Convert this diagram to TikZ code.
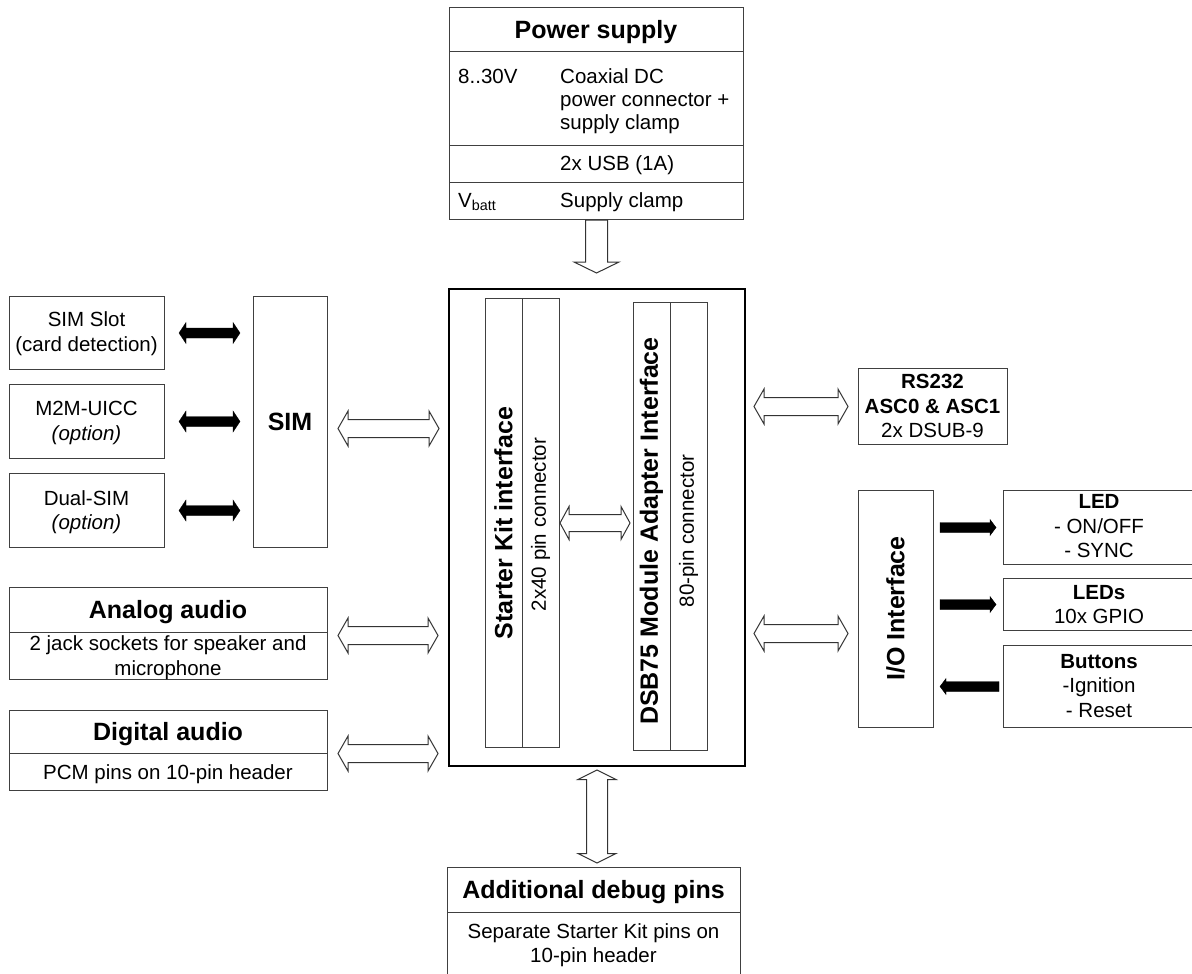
\documentclass[tikz,border=0pt]{standalone}
\usepackage{fontspec}
\setmainfont{Liberation Sans}
\usetikzlibrary{calc}

\tikzset{
  box/.style={draw=black!75, line width=1pt, rectangle, inner sep=0pt, anchor=north west},
  mainbox/.style={draw=black, line width=2pt, rectangle, inner sep=0pt, anchor=north west},
  divline/.style={draw=black!75, line width=1pt},
  txt/.style={inner sep=0pt, font=\fontsize{20.5pt}{24.5pt}\selectfont, align=center},
  ttl/.style={inner sep=0pt, font=\fontsize{25pt}{29pt}\selectfont\bfseries, align=center},
  hollow/.style={draw=black!80, line width=1pt, fill=white, line join=miter},
  solidarr/.style={fill=black, draw=black, line width=0.4pt},
}

% horizontal double-headed block arrow (from left #2 to right #3)
\newcommand\harrowD[6]{%
  \path[#1] let \p1=(#2), \p2=(#3) in
    (\x1,\y1) -- ({\x1+(#6)},{\y1+(#5)}) -- ({\x1+(#6)},{\y1+(#4)}) --
    ({\x2-(#6)},{\y1+(#4)}) -- ({\x2-(#6)},{\y1+(#5)}) -- (\x2,\y1) --
    ({\x2-(#6)},{\y1-(#5)}) -- ({\x2-(#6)},{\y1-(#4)}) --
    ({\x1+(#6)},{\y1-(#4)}) -- ({\x1+(#6)},{\y1-(#5)}) -- cycle;}
% horizontal single-headed block arrow, head at #3
\newcommand\harrowS[6]{%
  \path[#1] let \p1=(#2), \p2=(#3), \n1={sign(\x2-\x1)} in
    (\x1,{\y1+(#4)}) -- ({\x2-(\n1)*(#6)},{\y1+(#4)}) -- ({\x2-(\n1)*(#6)},{\y1+(#5)}) --
    (\x2,\y1) -- ({\x2-(\n1)*(#6)},{\y1-(#5)}) -- ({\x2-(\n1)*(#6)},{\y1-(#4)}) --
    (\x1,{\y1-(#4)}) -- cycle;}
% vertical single-headed block arrow, head at #3
\newcommand\varrowS[6]{%
  \path[#1] let \p1=(#2), \p2=(#3), \n1={sign(\y2-\y1)} in
    ({\x1+(#4)},\y1) -- ({\x1+(#4)},{\y2-(\n1)*(#6)}) -- ({\x1+(#5)},{\y2-(\n1)*(#6)}) --
    (\x1,\y2) -- ({\x1-(#5)},{\y2-(\n1)*(#6)}) -- ({\x1-(#4)},{\y2-(\n1)*(#6)}) --
    ({\x1-(#4)},\y1) -- cycle;}
% vertical double-headed block arrow
\newcommand\varrowD[6]{%
  \path[#1] let \p1=(#2), \p2=(#3), \n1={sign(\y2-\y1)} in
    (\x1,\y1) -- ({\x1+(#5)},{\y1+(\n1)*(#6)}) -- ({\x1+(#4)},{\y1+(\n1)*(#6)}) --
    ({\x1+(#4)},{\y2-(\n1)*(#6)}) -- ({\x1+(#5)},{\y2-(\n1)*(#6)}) -- (\x1,\y2) --
    ({\x1-(#5)},{\y2-(\n1)*(#6)}) -- ({\x1-(#4)},{\y2-(\n1)*(#6)}) --
    ({\x1-(#4)},{\y1+(\n1)*(#6)}) -- ({\x1-(#5)},{\y1+(\n1)*(#6)}) -- cycle;}

\begin{document}
\begin{tikzpicture}[x=1pt,y=-1pt]
\useasboundingbox (0,0) rectangle (1192,974);
\clip (0,0) rectangle (1192,974);
\fill[white] (0,0) rectangle (1192,974);

% ---------- boxes ----------
\node[box, minimum width=294pt, minimum height=212pt] (power) at (449,7) {};
\node[box, minimum width=155pt, minimum height=73pt] (slot) at (9,296) {};
\node[box, minimum width=155pt, minimum height=74pt] (m2m) at (9,384) {};
\node[box, minimum width=155pt, minimum height=74pt] (dual) at (9,473) {};
\node[box, minimum width=74pt, minimum height=251pt] (sim) at (253,296) {};
\node[box, minimum width=318pt, minimum height=92pt] (analog) at (9,587) {};
\node[box, minimum width=318pt, minimum height=80pt] (digital) at (9,710) {};
\node[mainbox, minimum width=296pt, minimum height=477pt] (main) at (448,288) {};
\node[box, minimum width=74pt, minimum height=449pt] (skif) at (485,298) {};
\node[box, minimum width=74pt, minimum height=448pt] (dsb) at (633,302) {};
\node[box, minimum width=293pt, minimum height=140pt] (debug) at (447,867) {};
\node[box, minimum width=149pt, minimum height=76pt] (rs232) at (858,368) {};
\node[box, minimum width=75pt, minimum height=237pt] (io) at (858,490) {};
\node[box, minimum width=192pt, minimum height=74pt] (led) at (1003,490) {};
\node[box, minimum width=192pt, minimum height=52pt] (leds) at (1003,578) {};
\node[box, minimum width=192pt, minimum height=82pt] (buttons) at (1003,645) {};

% ---------- dividers ----------
\draw[divline] (power.west |- 0,52) -- (power.east |- 0,52);
\draw[divline] (power.west |- 0,145) -- (power.east |- 0,145);
\draw[divline] (power.west |- 0,182) -- (power.east |- 0,182);
\draw[divline] (analog.west |- 0,632) -- (analog.east |- 0,632);
\draw[divline] (digital.west |- 0,753) -- (digital.east |- 0,753);
\draw[divline] (debug.west |- 0,912) -- (debug.east |- 0,912);
\draw[divline] (skif.north -| 522,0) -- (skif.south -| 522,0);
\draw[divline] (dsb.north -| 670,0) -- (dsb.south -| 670,0);

% ---------- texts ----------
\node[ttl, anchor=base] (tpower) at (596,38.5) {Power supply};
\node[txt, anchor=base west] (tv1) at (458,83.3) {8..30V};
\node[txt, anchor=west, align=left, font=\fontsize{20.5pt}{23pt}\selectfont] (tcoax) at (560,101.2) {Coaxial DC\\power connector +\\supply clamp};
\node[txt, anchor=base west] (tusb) at (560,170) {2x USB (1A)};
\node[txt, anchor=base west] (tvbatt) at (458,207) {V\textsubscript{batt}};
\node[txt, anchor=base west] (tclamp) at (560,207) {Supply clamp};

\node[txt] (tslot) at (86.5,333.5) {SIM Slot\\(card detection)};
\node[txt] (tm2m) at (86.5,423) {M2M-UICC\\\textit{(option)}};
\node[txt] (tdual) at (86.5,512) {Dual-SIM\\\textit{(option)}};
\node[ttl, anchor=base] (tsim) at (290,430.5) {SIM};

\node[ttl, anchor=base] (tanalog) at (168,618.5) {Analog audio};
\node[txt] (tanalogb) at (168,657.6) {2 jack sockets for speaker and\\microphone};
\node[ttl, anchor=base] (tdigital) at (168,740.5) {Digital audio};
\node[txt, anchor=base] (tdigitalb) at (168,779.3) {PCM pins on 10-pin header};

\node[ttl, rotate=90] (tskif) at (503.5,523) {Starter Kit interface};
\node[txt, rotate=90] (tskifb) at (540.5,524.5) {2x40 pin connector};
\node[ttl, rotate=90] (tdsb) at (651.5,531) {DSB75 Module Adapter Interface};
\node[txt, rotate=90] (tdsbb) at (688.5,531) {80-pin connector};

\node[ttl, anchor=base] (tdebug) at (593.5,898.5) {Additional debug pins};
\node[txt] (tdebugb) at (593.5,945) {Separate Starter Kit pins on\\10-pin header};

\node[txt] (trs) at (932.5,406) {\textbf{RS232}\\\textbf{ASC0 \& ASC1}\\2x DSUB-9};
\node[ttl, rotate=90] (tio) at (895.5,608.5) {I/O Interface};
\node[txt] (tled) at (1099,526.5) {\textbf{LED}\\- ON/OFF\\- SYNC};
\node[txt] (tleds) at (1099,604.5) {\textbf{LEDs}\\10x GPIO};
\node[txt] (tbtn) at (1099,686) {\textbf{Buttons}\\-Ignition\\- Reset};

% ---------- connectors ----------
\harrowD{solidarr}{$(slot.east)+(14,0)$}{$(slot.east -| sim.west)+(-13,0)$}{5pt}{10.5pt}{7pt}
\harrowD{solidarr}{$(m2m.east)+(14,0)$}{$(m2m.east -| sim.west)+(-13,0)$}{5pt}{10.5pt}{7pt}
\harrowD{solidarr}{$(dual.east)+(14,0)$}{$(dual.east -| sim.west)+(-13,0)$}{5pt}{10.5pt}{7pt}
\harrowD{hollow}{$(sim.east)+(10,6.5)$}{$(sim.east -| main.west)+(-9,6.5)$}{9pt}{17.5pt}{10pt}
\harrowD{hollow}{$(analog.east)+(10,2)$}{$(analog.east -| main.west)+(-10,2)$}{9pt}{17.5pt}{10pt}
\harrowD{hollow}{$(digital.east)+(10,3)$}{$(digital.east -| main.west)+(-10,3)$}{9pt}{17.5pt}{10pt}
\harrowD{hollow}{$(rs232.west -| main.east)+(8,0)$}{$(rs232.west)+(-10,0)$}{9pt}{17.5pt}{10pt}
\harrowD{hollow}{$(io.west -| main.east)+(8,24.5)$}{$(io.west)+(-10,24.5)$}{9pt}{17.5pt}{10pt}
\harrowD{hollow}{skif.east}{$(skif.east -| dsb.west)+(-3,0)$}{8.5pt}{16.5pt}{9pt}
\harrowS{solidarr}{$(led.west -| io.east)+(6,0)$}{$(led.west)+(-7,0)$}{5pt}{8pt}{6pt}
\harrowS{solidarr}{$(leds.west -| io.east)+(6,0)$}{$(leds.west)+(-7,0)$}{5pt}{8pt}{6pt}
\harrowS{solidarr}{$(buttons.west)+(-4,0)$}{$(buttons.west -| io.east)+(6,0)$}{5pt}{8pt}{6pt}
\varrowS{hollow}{power.south}{$(main.north)+(0,-15)$}{11pt}{22.5pt}{11pt}
\varrowD{hollow}{$(main.south)+(0,3)$}{$(debug.north)+(0,-4)$}{10.5pt}{19pt}{9.5pt}
\end{tikzpicture}
\end{document}
